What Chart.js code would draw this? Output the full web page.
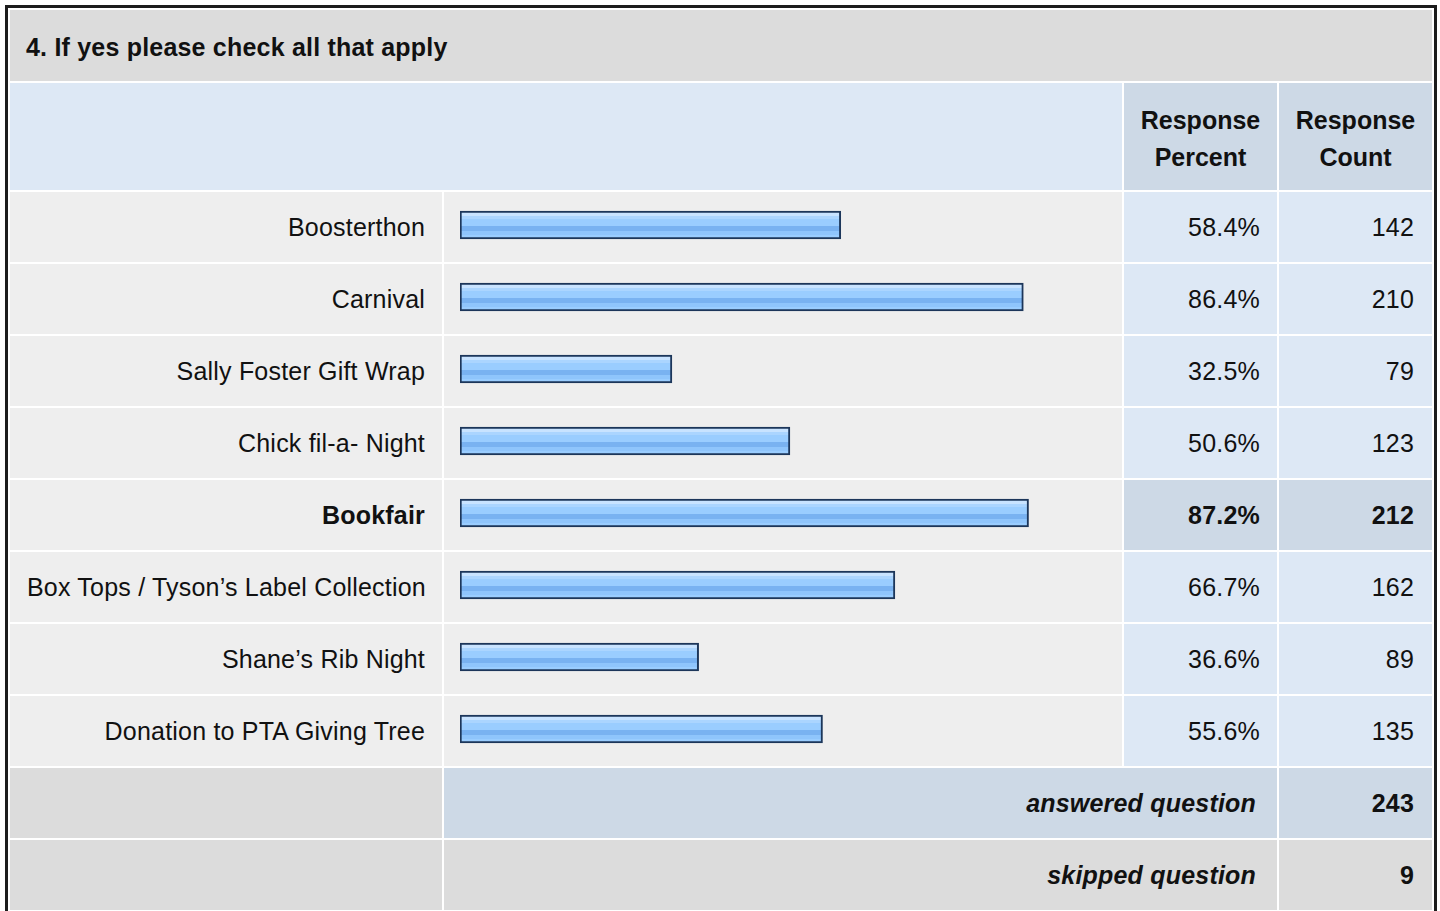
<!DOCTYPE html>
<html>
<head>
<meta charset="utf-8">
<script src="https://cdn.jsdelivr.net/npm/chart.js@4.4.1/dist/chart.umd.min.js"></script>
<style>
  html, body { margin: 0; padding: 0; background: #fff; overflow: hidden; }
  body { width: 1440px; height: 911px; position: relative;
         font-family: Arial, "Liberation Sans", sans-serif; color: #111; }
  #frame { position: absolute; left: 5px; top: 5px; width: 1426px; height: 1000px;
           border: 3px solid #1c1c1c; background: #fff; }
  table { border-collapse: separate; border-spacing: 2px; table-layout: fixed; width: 1426px; }
  td { padding: 0 17px; font-size: 25px; letter-spacing: 0.2px; vertical-align: middle; white-space: nowrap; overflow: hidden; }
  td.title { background: #dcdcdc; font-weight: bold; padding: 4px 16px 0 16px; height: 67px; }
  td.headblank { height: 107px; background: #dde8f5; }
  td.head { background: #cdd9e6; font-weight: bold; text-align: center; line-height: 37px; padding: 4px 0 0 0; height: 103px; letter-spacing: 0; }
  td.lab { height: 70px; background: #eeeeee; text-align: right; }
  td.bar { background: #eeeeee; }
  td.pct { background: #dde8f5; text-align: right; }
  td.cnt { background: #dde8f5; text-align: right; padding-right: 18px; }
  tr.hi td { font-weight: bold; }
  tr.hi td.pct, tr.hi td.cnt { background: #cdd9e6; }
  td.foot { height: 70px; background: #dcdcdc; }
  td.ftxt { font-weight: bold; font-style: italic; text-align: right; padding-right: 21px; }
  td.fnum { font-weight: bold; text-align: right; padding-right: 18px; }
  .blue { background: #cdd9e6; }
  .gray { background: #dcdcdc; }
  #bars { position: absolute; left: 444px; top: 189px; width: 678px; height: 576px; }
</style>
</head>
<body>
<div id="frame">
  <table id="tbl">
    <colgroup><col style="width:432px"><col style="width:678px"><col style="width:153px"><col style="width:153px"></colgroup>
    <tbody id="body"></tbody>
  </table>
</div>
<canvas id="bars" width="678" height="576"></canvas>
<script>
var title = "4. If yes please check all that apply";
var categories = ["Boosterthon", "Carnival", "Sally Foster Gift Wrap", "Chick fil-a- Night",
                  "Bookfair", "Box Tops / Tyson\u2019s Label Collection", "Shane\u2019s Rib Night",
                  "Donation to PTA Giving Tree"];
var percents = [58.4, 86.4, 32.5, 50.6, 87.2, 66.7, 36.6, 55.6];
var counts = [142, 210, 79, 123, 212, 162, 89, 135];
var highlighted = 4;
var answered = 243;
var skipped = 9;

/**
 * build the table around the chart
 */
function buildTable() {
    var tb = document.getElementById("body");
    var html = '<tr><td class="title" colspan="4">' + title + '</td></tr>';
    html += '<tr><td class="headblank" colspan="2"></td>' +
            '<td class="head">Response<br>Percent</td><td class="head">Response<br>Count</td></tr>';
    for (var i = 0; i < categories.length; i++) {
        html += '<tr' + (i == highlighted ? ' class="hi"' : '') + '>' +
                '<td class="lab">' + categories[i] + '</td><td class="bar"></td>' +
                '<td class="pct">' + percents[i].toFixed(1) + '%</td>' +
                '<td class="cnt">' + counts[i] + '</td></tr>';
    }
    html += '<tr><td class="foot"></td><td class="ftxt blue" colspan="2">answered question</td>' +
            '<td class="fnum blue">' + answered + '</td></tr>';
    html += '<tr><td class="foot"></td><td class="ftxt gray" colspan="2">skipped question</td>' +
            '<td class="fnum gray">' + skipped + '</td></tr>';
    tb.innerHTML = html;
}

/**
 * striped blue fill, made per bar from the y scale
 */
function barFill(ctx) {
    var chart = ctx.chart;
    var y = chart.scales && chart.scales.y;
    if (!y || ctx.dataIndex == null) return "#99ccff";
    var c = y.getPixelForValue(ctx.dataIndex);
    if (!isFinite(c)) return "#99ccff";
    var top = c - 14, bot = c + 14;
    var g = chart.ctx.createLinearGradient(0, top, 0, bot);
    var stops = [
        [0.00, "#c8e3ff"], [0.18, "#c8e3ff"],
        [0.18, "#abd5ff"], [0.30, "#abd5ff"],
        [0.30, "#9acdff"], [0.55, "#9acdff"],
        [0.55, "#79b2f1"], [0.70, "#79b2f1"],
        [0.70, "#8fc5fc"], [0.85, "#8fc5fc"],
        [0.85, "#9acdff"], [1.00, "#9acdff"]
    ];
    for (var i = 0; i < stops.length; i++) g.addColorStop(stops[i][0], stops[i][1]);
    return g;
}

function chart() {
    var ctx = document.getElementById("bars").getContext("2d");
    new Chart(ctx, {
        type: "bar",
        data: {
            labels: categories,
            datasets: [{
                data: percents,
                backgroundColor: barFill,
                borderColor: "#1c365a",
                borderWidth: 2,
                borderSkipped: false,
                barThickness: 28
            }]
        },
        options: {
            indexAxis: "y",
            responsive: false,
            animation: false,
            layout: { padding: { left: 16, right: 10, top: 0, bottom: 0 } },
            plugins: { legend: { display: false }, tooltip: { enabled: false } },
            scales: {
                x: { display: false, min: 0, max: 100 },
                y: { display: false }
            }
        }
    });
}

buildTable();
chart();
</script>
</body>
</html>
